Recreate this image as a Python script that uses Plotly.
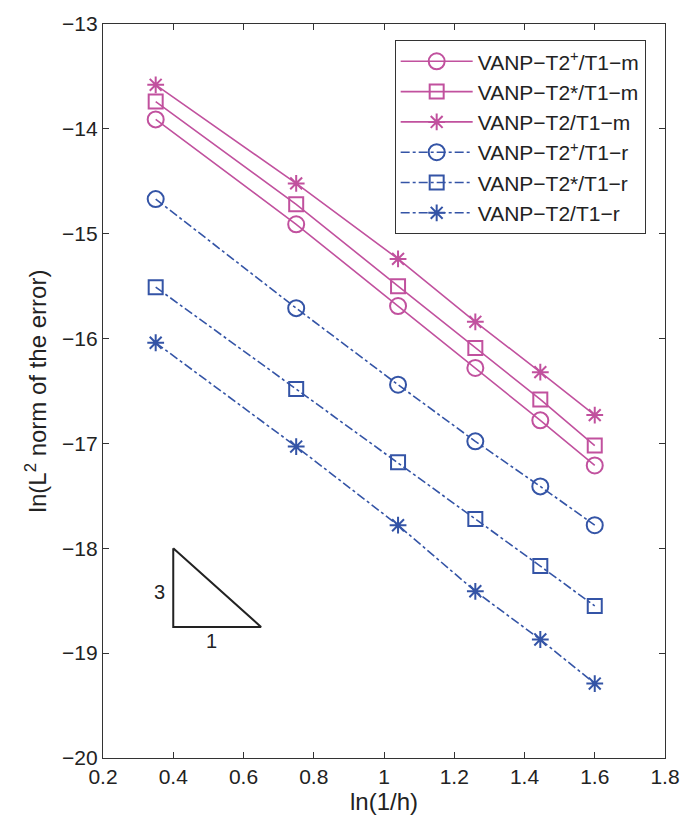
import plotly.graph_objects as go

x_vals = [0.35, 0.75, 1.04, 1.26, 1.445, 1.60]

m_circle = [-13.91, -14.91, -15.69, -16.28, -16.78, -17.21]
m_square = [-13.74, -14.72, -15.50, -16.09, -16.58, -17.02]
m_star = [-13.58, -14.52, -15.24, -15.84, -16.32, -16.73]
r_circle = [-14.67, -15.71, -16.44, -16.98, -17.41, -17.78]
r_square = [-15.51, -16.48, -17.18, -17.72, -18.17, -18.55]
r_star = [-16.04, -17.03, -17.78, -18.41, -18.87, -19.29]

names = ["VANP−T2<sup>+</sup>/T1−m", "VANP−T2*/T1−m", "VANP−T2/T1−m",
         "VANP−T2<sup>+</sup>/T1−r", "VANP−T2*/T1−r", "VANP−T2/T1−r"]

tri_x = [0.4, 0.4, 0.65, 0.4]
tri_y = [-18.0, -18.75, -18.75, -18.0]

MAG = "#C1519E"
BLU = "#3454A6"

series = [
    (m_circle, names[0], MAG, "solid", "circle-open", 16),
    (m_square, names[1], MAG, "solid", "square-open", 14),
    (m_star, names[2], MAG, "solid", "asterisk-open", 14),
    (r_circle, names[3], BLU, "dashdot", "circle-open", 16),
    (r_square, names[4], BLU, "dashdot", "square-open", 14),
    (r_star, names[5], BLU, "dashdot", "asterisk-open", 14),
]

fig = go.Figure()
for i, (ys, nm, col, dash, sym, sz) in enumerate(series):
    fig.add_trace(go.Scatter(
        x=x_vals, y=ys, name=nm, mode="lines+markers",
        legendgroup="g%d" % i,
        line=dict(color=col, width=1.6, dash=dash),
        marker=dict(symbol=sym, size=sz, color=col, line=dict(color=col, width=2)),
    ))

fig.add_trace(go.Scatter(x=tri_x, y=tri_y, mode="lines", showlegend=False,
                         line=dict(color="#222222", width=2), hoverinfo="skip"))

fig.add_annotation(x=0.36, y=-18.42, text="3", showarrow=False,
                   font=dict(size=20, color="#222222"))
fig.add_annotation(x=0.51, y=-18.88, text="1", showarrow=False,
                   font=dict(size=20, color="#222222"))

axis_common = dict(showline=True, linecolor="#333333", linewidth=1.2, mirror="ticks",
                   ticks="inside", ticklen=6, tickcolor="#333333", showgrid=False,
                   zeroline=False, tickfont=dict(size=21, color="#222222"))

fig.update_layout(
    width=692, height=824,
    margin=dict(l=103, r=22, t=15, b=66),
    paper_bgcolor="white", plot_bgcolor="white",
    font=dict(family="Liberation Sans, Arial, sans-serif", color="#222222"),
    xaxis=dict(range=[0.2, 1.8], tickvals=[0.2, 0.4, 0.6, 0.8, 1.0, 1.2, 1.4, 1.6, 1.8],
               ticktext=["0.2", "0.4", "0.6", "0.8", "1", "1.2", "1.4", "1.6", "1.8"],
               title=dict(text="ln(1/h)", font=dict(size=24), standoff=2), **axis_common),
    yaxis=dict(range=[-20, -13], tickvals=[-20, -19, -18, -17, -16, -15, -14, -13],
               ticktext=["−20", "−19", "−18", "−17", "−16", "−15", "−14", "−13"],
               title=dict(text="ln(L<sup>2</sup> norm of the error)", font=dict(size=24), standoff=8),
               **axis_common),
    legend=dict(x=0.519, y=0.978, xanchor="left", yanchor="top",
                bordercolor="#333333", borderwidth=1, bgcolor="white",
                font=dict(size=21, color="#222222"), itemwidth=72,
                tracegroupgap=0),
    showlegend=True,
)

fig.write_html("out.html")
